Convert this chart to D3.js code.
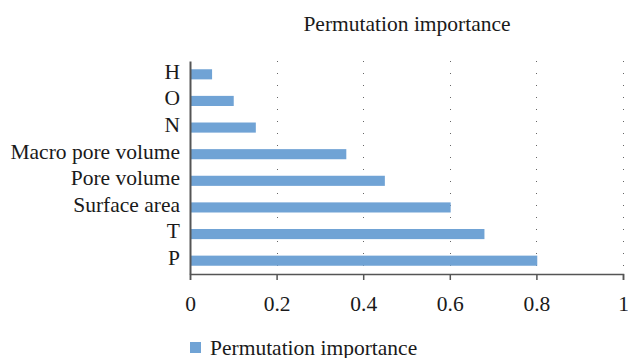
<!DOCTYPE html>
<html>
<head>
<meta charset="utf-8">
<script src="https://cdn.jsdelivr.net/npm/d3@7"></script>
<style>
  body { margin: 0; background: #fff; }
  text { font-family: "Liberation Serif", "DejaVu Serif", serif; fill: #1a1a1a; }
</style>
</head>
<body>
<script>
var categories = ["H", "O", "N", "Macro pore volume", "Pore volume", "Surface area", "T", "P"];
var values = [0.051, 0.101, 0.152, 0.361, 0.450, 0.602, 0.680, 0.802];
var xTicks = [0, 0.2, 0.4, 0.6, 0.8, 1];
var seriesName = "Permutation importance";
var chartTitle = "Permutation importance";

var width = 628, height = 358;
var plotLeft = 190, plotRight = 623, plotTop = 61, plotBottom = 274;
var fontSize = '21.5px';

var svg = d3.select('body').append('svg')
  .attr('width', width)
  .attr('height', height);

var x = d3.scaleLinear().domain([0, 1]).range([plotLeft, plotRight]);
var y = d3.scaleBand().domain(categories).range([plotTop, plotBottom]).paddingInner(0.62).paddingOuter(0.31);

// dotted gridlines
svg.selectAll('.grid')
  .data(xTicks.filter(function(d){ return d > 0; }))
  .enter().append('line')
  .attr('x1', function(d){ return Math.round(x(d)) + 0.5; })
  .attr('x2', function(d){ return Math.round(x(d)) + 0.5; })
  .attr('y1', plotTop)
  .attr('y2', plotBottom)
  .style('stroke', '#666')
  .style('stroke-width', 1)
  .style('stroke-dasharray', '1,11');

// bars
svg.selectAll('.bar')
  .data(values)
  .enter().append('rect')
  .attr('x', x(0))
  .attr('y', function(d, i){ return y(categories[i]); })
  .attr('width', function(d){ return x(d) - x(0); })
  .attr('height', y.bandwidth())
  .style('fill', '#70a3d5');

// x axis
var xAxis = svg.append('g')
  .attr('transform', 'translate(0,' + plotBottom + ')')
  .call(d3.axisBottom(x).tickValues(xTicks).tickFormat(d3.format('')).tickSize(6).tickPadding(16));
xAxis.select('.domain').style('stroke', '#555').style('stroke-width', 1.5);
xAxis.selectAll('.tick line').style('stroke', '#555').style('stroke-width', 1.5);
xAxis.selectAll('.tick text').style('font-size', fontSize).style('fill', '#1a1a1a').style('font-family', '"Liberation Serif", serif');

// y axis
var yAxis = svg.append('g')
  .attr('transform', 'translate(' + plotLeft + ',0)')
  .call(d3.axisLeft(y).tickSize(0).tickPadding(10));
yAxis.select('.domain').style('stroke', '#555').style('stroke-width', 2);
yAxis.selectAll('.tick text').attr('dy', '0.2em').style('font-size', fontSize).style('fill', '#1a1a1a').style('font-family', '"Liberation Serif", serif');

// title
svg.append('text')
  .attr('x', 407)
  .attr('y', 31)
  .attr('text-anchor', 'middle')
  .style('font-size', fontSize)
  .text(chartTitle);

// legend
svg.append('rect')
  .attr('x', 190).attr('y', 342)
  .attr('width', 11).attr('height', 11)
  .style('fill', '#70a3d5');
svg.append('text')
  .attr('x', 210)
  .attr('y', 355)
  .style('font-size', fontSize)
  .text(seriesName);
</script>
</body>
</html>
